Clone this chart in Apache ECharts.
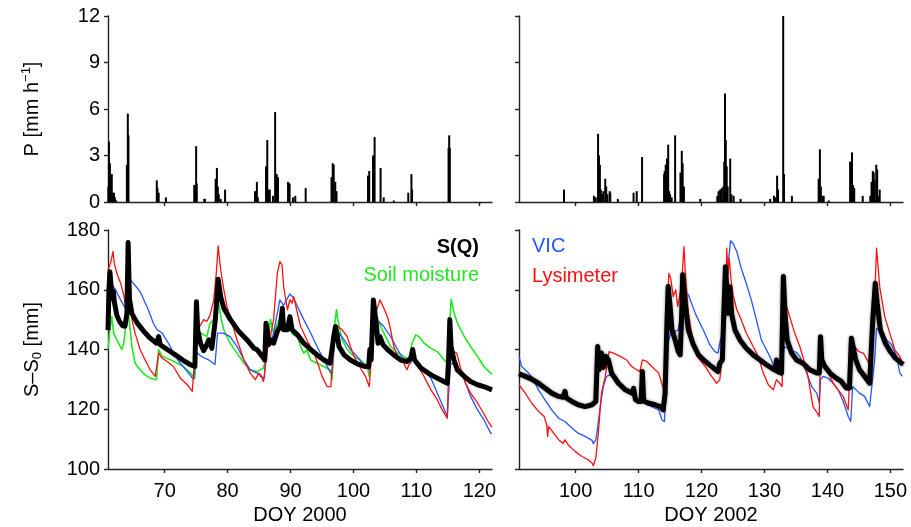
<!DOCTYPE html>
<html>
<head>
<meta charset="utf-8">
<script src="https://cdn.jsdelivr.net/npm/echarts@6/dist/echarts.min.js"></script>
<style>
html,body{margin:0;padding:0;background:#fff;}
#chart{width:911px;height:527px;}
</style>
</head>
<body>
<div id="chart"></div>
<script>
// ---------- Data (DOY, value) ----------
const XTICKS_2000 = [70, 80, 90, 100, 110, 120];
const XTICKS_2002 = [100, 110, 120, 130, 140, 150];
const P_TICKS = [0, 3, 6, 9, 12];
const S_TICKS = [100, 120, 140, 160, 180];

// Precipitation [mm h-1], 2000
const P2000 = [[61.05,1.0],[61.15,3.9],[61.3,2.5],[61.45,1.5],[61.6,1.8],[61.75,0.6],[61.95,0.6],[62.1,0.3],[62.3,0.1],
[64.0,2.4],[64.15,5.7],[64.25,4.3],
[68.75,1.4],[68.85,0.9],[69.05,0.6],[70.2,0.3],
[74.7,1.1],[74.85,1.1],[75.0,3.6],[75.1,1.2],[76.3,0.2],[76.4,0.2],
[78.1,1.5],[78.3,2.2],[78.45,1.0],[78.6,0.5],[78.9,0.2],[79.6,0.8],
[84.35,0.7],[84.65,1.3],[84.8,0.3],
[86.1,2.3],[86.3,4.0],[86.5,0.8],[86.7,0.8],[87.2,0.4],[87.55,5.8],[87.8,1.8],[88.0,1.6],
[89.6,1.3],[89.85,1.2],[90.4,0.3],[90.75,0.4],[92.4,0.9],
[96.5,1.6],[96.7,2.5],[96.85,2.4],[97.1,1.3],[97.3,0.7],
[102.3,1.7],[102.5,2.0],[103.1,3.0],[103.35,4.2],[104.3,2.2],[104.8,0.3],[106.4,0.1],
[108.7,0.6],[109.2,1.8],[109.3,0.8],
[115.1,3.5],[115.2,4.3],[115.3,3.5]];

// Precipitation [mm h-1], 2002
const P2002 = [[98.15,0.8],[102.9,0.4],[103.2,0.3],
[103.56,4.4],[103.7,3.0],[103.85,2.4],[104.0,0.8],[104.2,0.5],[104.4,0.7],[104.7,1.5],[104.85,1.0],[105.05,0.5],[105.4,0.7],[105.5,0.6],
[106.7,0.2],[109.2,0.6],[109.7,0.7],[110.55,2.9],
[114.05,1.8],[114.15,2.0],[114.3,2.4],[114.5,2.8],[114.7,3.7],[114.85,0.7],[115.0,0.5],[115.25,0.3],
[115.8,4.3],[116.65,1.9],[116.86,3.3],[117.0,2.5],[117.2,1.0],[119.8,0.2],
[122.5,0.4],[122.7,0.7],[122.95,0.8],[123.2,0.9],[123.45,1.0],[123.6,2.6],[123.72,7.0],[123.85,4.0],[124.0,2.3],[124.15,1.0],[124.55,2.8],[124.75,0.5],[125.1,0.4],
[126.2,0.2],[130.9,0.2],[131.5,0.4],[131.75,0.3],[132.0,1.7],[132.15,0.8],
[132.97,12.0],[133.1,1.8],[134.35,0.4],
[138.6,1.5],[138.8,3.4],[138.95,1.0],[139.2,0.4],[139.4,0.4],[140.2,0.1],
[143.6,2.6],[143.9,3.2],[144.05,1.1],[144.25,0.9],[145.6,0.4],
[146.8,0.4],[147.0,1.3],[147.2,2.0],[147.35,1.9],[147.5,1.4],[147.75,2.4],[147.9,2.1],[148.1,0.4],[148.3,0.8]];

// S - S0 [mm], 2000
const SQ2000 = [[61.0,146.5],[61.15,160],[61.3,166],[61.5,161],[61.7,157],[61.85,159.5],[62.0,156],[62.4,151.5],[62.8,149.5],[63.3,148],[63.7,147.8],[64.0,152],[64.2,175.8],[64.4,157],[64.8,152],[65.6,149],[66.7,146],[67.7,143.8],[68.7,142.1],[69.05,144.3],[69.3,141.6],[70.4,140],[71.7,138.2],[73.0,136.3],[74.1,134.9],[74.8,134.3],[75.05,156],[75.25,146.6],[75.7,142.1],[76.2,139.6],[76.7,141.6],[77.0,143.2],[77.5,140.4],[78.05,150],[78.5,163.5],[78.9,157.7],[79.4,153.8],[80.45,150],[81.8,146],[83.1,143.2],[84.2,140.4],[84.7,139.9],[85.5,137.7],[85.9,136.5],[86.1,148.8],[86.3,146.5],[86.5,141.6],[86.9,143.2],[87.3,142.1],[87.9,146],[88.4,148],[88.7,153.8],[88.9,146.6],[89.5,146.6],[89.9,151],[90.25,146.6],[91.1,144.9],[92.1,142.1],[93.2,140],[94.2,138.2],[95.3,136.5],[96.25,135.4],[96.5,138.8],[96.9,144.9],[97.15,147.7],[97.4,144.9],[97.7,141],[98.5,138.2],[99.5,136.5],[100.6,135.2],[101.9,134.3],[102.4,134.3],[102.6,140],[102.8,136.5],[103.15,156.6],[103.35,153.3],[103.65,147.7],[103.9,142.1],[104.2,144.3],[104.4,144.9],[104.7,141.6],[105.4,140],[106.4,138.2],[107.5,136.5],[108.5,136],[109.1,137.1],[109.4,140],[109.7,136.5],[110.7,133.8],[112.3,131.5],[113.8,129.9],[114.9,128.7],[115.1,136.5],[115.3,150],[115.5,141],[115.95,136.5],[116.5,133.2],[117.6,131],[118.6,129.3],[119.7,128.2],[120.7,127.6],[122,126.5]];

const SM2000 = [[61.0,140],[61.3,146.6],[61.6,151],[61.9,145.5],[62.4,143.2],[63.2,140],[63.5,142],[63.8,147.7],[64.2,153],[64.8,141],[65.3,135.4],[66.1,133.2],[66.9,131.5],[67.7,130.4],[68.7,129.9],[69.05,140],[69.6,137.7],[71.0,136.5],[72.0,135.4],[73.0,134.3],[74.1,132.1],[74.8,130.4],[75.05,145.5],[75.7,145.5],[76.7,144.3],[77.2,148.8],[77.8,150],[78.5,156.6],[79.0,150],[79.4,146.6],[80.4,142.1],[81.5,138.8],[82.6,135.4],[83.6,133.2],[84.7,132.6],[85.7,133.8],[86.0,136],[86.8,150],[87.3,145.5],[88.3,150.5],[89.9,146.6],[90.4,145],[91.1,144.3],[91.6,141],[92.1,138.8],[92.6,139.8],[93.2,136.5],[94.2,135.4],[95.3,134.3],[96.25,133.2],[96.6,129.9],[96.9,146.6],[97.3,153.3],[97.5,150],[98.2,143.2],[99.0,140],[100.1,137.7],[101.1,136.5],[102.2,134.3],[102.5,131],[102.8,140],[103.25,151],[103.7,151],[104.3,147.7],[105.1,144.3],[105.9,141],[107.0,138.8],[108.0,137.7],[108.8,136.5],[109.3,142.1],[109.9,144.9],[110.4,144.3],[111.2,142.1],[112.3,140.4],[113.3,139.3],[114.4,136.5],[115.0,135.4],[115.2,145],[115.5,156.8],[116.0,152.1],[116.5,148.8],[117.6,144.3],[118.6,141],[119.7,137.7],[120.7,134.3],[121.8,132.1],[122,131.8]];

const VIC2000 = [[61.0,164.4],[61.4,162.2],[62.2,160],[63.0,156.6],[63.75,153.8],[64.0,153.5],[64.2,164.5],[64.5,164.4],[65.1,162],[66.1,159.4],[67.4,153.3],[68.2,148.8],[68.8,146.6],[69.05,147.1],[69.6,145.5],[70.6,142.1],[71.7,137.7],[72.5,135.4],[73.6,132.6],[74.6,129.9],[74.85,130.5],[75.05,139],[76.0,137.5],[77.0,136.5],[78.0,135],[78.4,145.5],[79.3,145.5],[80.4,144.3],[81.5,141],[82.6,136.5],[83.6,133.2],[84.7,132.1],[85.2,131],[85.85,130.4],[86.1,141],[86.8,141.5],[87.3,145.5],[88.3,156.6],[88.9,154.8],[89.9,158.6],[90.5,157.2],[91.1,154.4],[92.1,150],[93.2,145.5],[94.2,141],[95.3,136.5],[96.25,132.6],[96.6,132.1],[97.15,146.6],[97.7,145.5],[98.5,143.2],[99.5,140],[100.6,137.7],[101.7,134.3],[102.5,133.2],[102.8,136.5],[103.3,148],[104.0,149.4],[104.8,147.7],[105.9,144.3],[107.0,140],[108.0,136.5],[109.1,135.4],[109.5,138.8],[110.1,135.4],[111.2,133.2],[112.3,130.4],[113.3,125.4],[114.1,121.5],[114.9,117.6],[115.1,118],[115.4,135.4],[116.5,134.5],[117.6,129.9],[118.6,124.3],[119.7,119.8],[120.7,116.5],[121.8,112],[122,111.8]];

const LYS2000 = [[61.0,166.6],[61.4,168.9],[61.8,172.8],[62.0,168.9],[62.4,165.5],[63.0,162.2],[63.5,158.3],[63.8,154.4],[64.0,161],[64.3,176.4],[64.45,166.6],[64.8,150],[65.3,145.5],[66.1,140],[66.9,136.5],[67.7,133.2],[68.5,131],[68.8,130.4],[69.05,138.8],[69.6,137.1],[70.4,136],[71.4,134.3],[72.5,130.4],[73.6,128.2],[74.4,126],[74.7,126.5],[75.05,146.6],[75.4,147.1],[76.2,150],[76.7,149.4],[77.2,151.5],[77.8,156.6],[78.2,165.5],[78.5,174.7],[78.9,166.6],[79.4,160],[79.9,154.4],[80.7,148.8],[81.5,143.2],[82.6,136.5],[83.6,132.1],[84.4,129.9],[84.95,132.1],[85.3,131.5],[85.7,129.3],[86.0,129.9],[86.4,141],[86.8,144.3],[87.3,150],[87.9,165.5],[88.3,169.4],[88.65,168.3],[88.9,161],[89.5,153.3],[89.9,156.6],[90.25,155.5],[90.5,157.7],[91.1,152.1],[91.6,147.7],[92.6,143.2],[93.7,138.8],[94.5,134.3],[95.0,131],[95.8,127.6],[96.4,127.6],[96.7,136.5],[97.15,146.6],[97.4,147.9],[98.2,146.6],[99.0,144.3],[99.5,141],[100.1,137.7],[101.1,133.8],[101.9,131],[102.3,128.7],[102.5,127.6],[102.8,136.5],[103.15,151],[103.5,152],[104.2,156.6],[104.7,154.4],[105.4,151],[105.9,146.6],[106.4,141],[107.0,137.7],[108.0,135.4],[108.5,133.2],[109.1,136.5],[109.4,138.8],[110.1,134.9],[111.2,131],[112.3,126.5],[113.3,123.2],[114.1,119.8],[114.9,117],[115.1,117.6],[115.3,147.7],[115.5,141],[115.9,139.3],[116.4,138.8],[117.0,133.8],[117.8,128.7],[118.6,125.4],[119.7,122.1],[120.7,118.5],[121.5,115.5],[122,114]];

// S - S0 [mm], 2002
const SQ2002 = [[91,131.9],[92,131],[93,130.1],[94.1,128.7],[95.1,127.1],[96.2,125.4],[97.3,124.3],[98.0,124],[98.3,126],[98.5,123.8],[99.4,122.6],[100.4,121.5],[101.5,120.9],[102.6,121.5],[103.2,122.6],[103.5,141],[103.7,133.2],[104.1,138.8],[104.4,134],[104.8,137.7],[105.2,136.5],[105.7,132.1],[106.8,128.7],[107.9,126.5],[108.9,125.4],[109.2,127],[109.5,123.2],[110.0,122.6],[110.4,122.6],[110.6,132.6],[110.8,122.8],[111.5,122.1],[112.6,121.5],[113.4,120.9],[113.9,119.8],[114.2,125],[114.5,148.8],[114.7,161.1],[115.0,154.4],[115.3,146.6],[115.8,143.2],[116.3,139.3],[116.6,138.2],[116.85,152.1],[117.0,165],[117.4,155.5],[117.9,146.6],[118.7,141.6],[119.5,138.2],[120.6,136],[121.4,134.6],[121.9,133.8],[122.6,132.6],[122.9,135.4],[123.3,136.5],[123.5,149.9],[123.8,167.7],[124.0,161],[124.2,152.1],[124.5,161],[124.8,151.6],[125.3,146.6],[126.1,143.2],[127.1,140.4],[128.2,138.2],[129.3,136.5],[130.3,134.9],[131.4,133.4],[131.75,133],[131.9,136.5],[132.1,132.6],[132.7,132.1],[133.0,164.4],[133.25,152.1],[133.6,143.2],[134.3,138.8],[135.1,136.5],[136.1,135.4],[137.2,133.2],[138.3,132.1],[138.7,132.1],[138.9,144.3],[139.1,136.5],[139.6,134.3],[140.4,132.1],[141.4,130.4],[142.2,129.3],[143.0,127.1],[143.5,127.1],[143.8,143.8],[144.1,143.8],[144.5,136.5],[145.1,133.2],[145.9,131],[146.7,128.7],[147.0,128.7],[147.2,149.9],[147.6,162.2],[147.9,155.5],[148.4,146.6],[149.2,142.1],[150.0,139.3],[150.8,137.1],[151.9,135.2],[152,135]];

const VIC2002 = [[91,137.7],[91.4,134.3],[92,133.2],[93,131],[94.1,126.5],[95.1,123.2],[96.2,119.8],[97.3,117],[98.3,115.9],[99.4,113.7],[100.4,112],[101.5,110.9],[102.6,109.6],[102.8,108.5],[103.2,109.8],[103.5,114],[103.9,120.9],[104.4,127.6],[104.9,131],[105.5,131.5],[106.0,130.4],[107.1,128.7],[108.1,126.5],[109.2,124.3],[110.0,122.6],[110.6,123.2],[111.0,122.1],[112.1,120.9],[113.2,119.8],[113.7,116.5],[114.1,115.9],[114.4,127.6],[114.7,142.1],[115.2,146.6],[115.8,146],[116.3,146.6],[116.9,154.4],[117.4,159.4],[117.9,158.3],[119.0,152.1],[120.0,147.7],[120.5,145.5],[121.3,141.6],[122.1,139.3],[122.6,138.8],[123.0,143.2],[123.4,145.5],[123.8,155],[124.2,168],[124.6,176.4],[125.0,175.5],[125.6,172.8],[126.3,167.2],[127.1,162.2],[127.9,156.6],[128.7,150],[129.5,143.2],[130.3,140],[131.1,136.5],[131.6,133.8],[132.1,132.6],[132.7,132.1],[133.1,141],[134.0,140],[135.1,139],[135.6,137.7],[136.7,132.1],[137.5,127.6],[138.3,125.4],[138.7,122.1],[138.9,129.9],[139.3,131],[140.1,130.4],[140.9,128.7],[141.7,126.5],[142.5,122.6],[143.3,117.6],[143.7,115.9],[144.0,127.6],[144.3,127],[145.1,125.4],[145.9,124.3],[146.7,120.9],[147.0,121.5],[147.5,136.5],[147.8,147.1],[148.6,146.6],[149.4,143.2],[150.2,141.6],[151.0,137.7],[151.5,132.1],[151.9,131]];

const LYS2002 = [[91,128.2],[92,125.4],[93,122.1],[94.1,119.3],[95,117.6],[95.4,114.8],[95.55,110.9],[95.7,114.3],[96.5,112],[97.3,109.8],[98.0,108.5],[98.3,109.8],[98.8,108.1],[99.9,105.9],[101.0,104.2],[102.0,103.1],[102.6,102],[102.8,101.1],[103.2,103.7],[103.6,112],[104.1,125.4],[104.7,131],[105.3,139.3],[106.0,138.8],[107.1,137.7],[108.1,136.5],[108.9,134.3],[109.7,133.2],[110.2,132.6],[110.6,136.5],[111.3,136],[112.1,134.3],[113.2,132.1],[113.9,127.1],[114.2,132.1],[114.5,149.9],[114.8,165.5],[115.1,163.8],[115.5,157.7],[115.9,160],[116.2,154.4],[116.6,158.8],[116.9,164.4],[117.2,174.4],[117.4,166.6],[117.9,152.1],[118.7,142.1],[119.5,137.1],[120.6,134.3],[121.6,131],[122.4,128.7],[122.9,129.9],[123.3,138],[123.8,149.9],[124.0,173.9],[124.2,165],[124.4,170.5],[124.7,163],[125.0,158.3],[125.6,153.3],[126.3,150],[127.1,145.5],[128.2,141],[129.0,137.7],[129.8,132.1],[130.6,128.2],[131.4,126.5],[131.9,129.9],[132.4,128.7],[132.8,127.6],[133.0,150],[133.5,154.4],[134.0,151],[134.8,145.5],[135.6,141],[136.4,135.4],[136.9,131],[137.7,120.9],[138.4,118.7],[138.7,117.6],[138.85,136.5],[139.4,136.5],[140.0,133],[140.9,128.7],[141.7,126.5],[142.5,124.3],[143.3,119.8],[143.6,119.3],[143.8,144.3],[144.3,141],[145.0,139.3],[145.7,138.8],[146.6,135.4],[146.9,135.4],[147.1,147.7],[147.6,163.3],[147.8,173.9],[148.3,161],[149.1,151],[149.9,145.5],[150.7,139.9],[151.5,137.7],[152,134.5]];

// ---------- Styling ----------
const FONT = 'Liberation Sans, Arial, Helvetica, sans-serif';
const C_SQ = '#000000', C_SM = '#22e622', C_VIC = '#2255ff', C_LYS = '#ff1010';
const axisLineStyle = { color: '#222', width: 1.4 };

function xAxis(gridIndex, min, max, ticks, showLabels, name) {
  return {
    type: 'value', gridIndex, min, max,
    axisLine: { show: true, onZero: false, lineStyle: axisLineStyle },
    axisTick: { show: true, length: 4, lineStyle: axisLineStyle, customValues: ticks },
    axisLabel: { show: showLabels, customValues: ticks, margin: 12, fontFamily: FONT, fontSize: 20, color: '#000' },
    splitLine: { show: false },
    name: name || '', nameLocation: 'middle', nameGap: 36,
    nameTextStyle: { fontFamily: FONT, fontSize: 20, color: '#000' }
  };
}
function yAxis(gridIndex, min, max, interval, showLabels, name) {
  return {
    type: 'value', gridIndex, min, max, interval,
    axisLine: { show: true, onZero: false, lineStyle: axisLineStyle },
    axisTick: { show: true, length: 4, lineStyle: axisLineStyle },
    axisLabel: { show: showLabels, margin: 8, fontFamily: FONT, fontSize: 20, color: '#000' },
    splitLine: { show: false },
    name: name || '', nameLocation: 'middle', nameGap: 64, nameRotate: 90,
    nameTextStyle: {
      fontFamily: FONT, fontSize: 20, color: '#000', lineHeight: 24,
      rich: {
        a: { fontFamily: FONT, fontSize: 20, color: '#000', lineHeight: 24 },
        sup: { fontFamily: FONT, fontSize: 13, color: '#000', verticalAlign: 'top', lineHeight: 16 },
        sub: { fontFamily: FONT, fontSize: 13, color: '#000', verticalAlign: 'bottom', lineHeight: 16, padding: [10, 0, 0, 0] }
      }
    }
  };
}
function line(x, y, data, color, width, z, extraStyle) {
  return {
    type: 'line', xAxisIndex: x, yAxisIndex: y, data, showSymbol: false, symbol: 'none',
    lineStyle: Object.assign({ color, width, join: 'round' }, extraStyle || {}), z, animation: false, silent: true
  };
}
function bars(x, y, data) {
  return { type: 'bar', xAxisIndex: x, yAxisIndex: y, data, barWidth: 2, itemStyle: { color: '#000' }, animation: false, silent: true };
}

const chart = echarts.init(document.getElementById('chart'), null, { renderer: 'canvas' });
chart.setOption({
  backgroundColor: '#fff',
  animation: false,
  grid: [
    { left: 108, top: 16, width: 384, height: 186 },
    { left: 519, top: 16, width: 384, height: 186 },
    { left: 108, top: 230, width: 384, height: 239 },
    { left: 519, top: 230, width: 384, height: 239 }
  ],
  xAxis: [
    xAxis(0, 61, 122, XTICKS_2000, false),
    xAxis(1, 91, 152, XTICKS_2002, false),
    xAxis(2, 61, 122, XTICKS_2000, true, 'DOY 2000'),
    xAxis(3, 91, 152, XTICKS_2002, true, 'DOY 2002')
  ],
  yAxis: [
    yAxis(0, P_TICKS[0], P_TICKS[P_TICKS.length-1], 3, true, '{a|P [mm h}{sup|−1}{a|]}'),
    yAxis(1, P_TICKS[0], P_TICKS[P_TICKS.length-1], 3, false),
    yAxis(2, S_TICKS[0], S_TICKS[S_TICKS.length-1], 20, true, '{a|S–S}{sub|0}{a| [mm]}'),
    yAxis(3, S_TICKS[0], S_TICKS[S_TICKS.length-1], 20, false)
  ],
  series: [
    bars(0, 0, P2000),
    bars(1, 1, P2002),
    line(2, 2, SM2000, C_SM, 1.6, 2),
    line(2, 2, VIC2000, C_VIC, 1.3, 3),
    line(2, 2, LYS2000, C_LYS, 1.3, 4),
    line(2, 2, SQ2000, C_SQ, 5, 5),
    line(3, 3, VIC2002, C_VIC, 1.3, 3),
    line(3, 3, LYS2002, C_LYS, 1.3, 4),
    line(3, 3, SQ2002, C_SQ, 5, 5, { shadowColor: 'rgba(0,0,0,0.45)', shadowBlur: 3 })
  ],
  graphic: [
    { type: 'text', x: 479, y: 247, style: { text: 'S(Q)', fill: '#000', font: 'bold 20px ' + FONT, align: 'right', verticalAlign: 'middle' } },
    { type: 'text', x: 479, y: 275, style: { text: 'Soil moisture', fill: C_SM, font: '20px ' + FONT, align: 'right', verticalAlign: 'middle' } },
    { type: 'text', x: 532, y: 246, style: { text: 'VIC', fill: C_VIC, font: '20px ' + FONT, align: 'left', verticalAlign: 'middle' } },
    { type: 'text', x: 532, y: 276, style: { text: 'Lysimeter', fill: C_LYS, font: '20px ' + FONT, align: 'left', verticalAlign: 'middle' } }
  ]
});
</script>
</body>
</html>
